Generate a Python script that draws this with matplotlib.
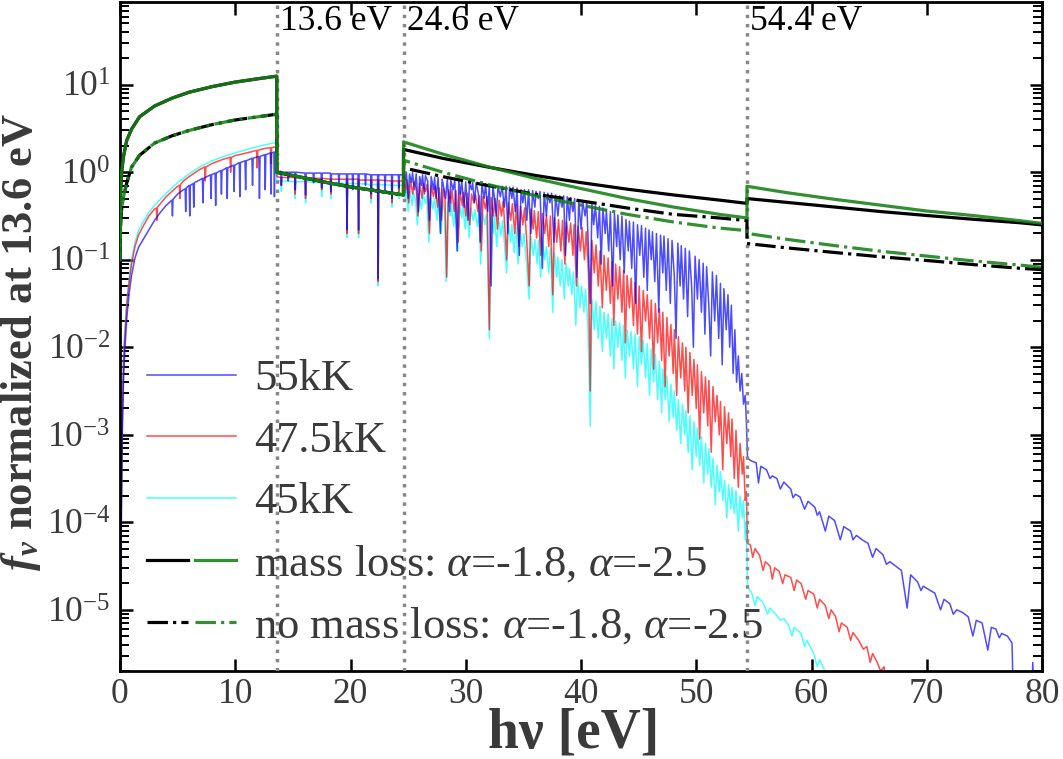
import numpy as np
import matplotlib
matplotlib.use("Agg")
import matplotlib.pyplot as plt
from matplotlib.lines import Line2D
from matplotlib.legend_handler import HandlerTuple

# ---------------- data (energy in eV, spectra as log10 f_nu) ----------------
edges = [13.6, 24.6, 54.4]
edge_labels = ["13.6 eV", "24.6 eV", "54.4 eV"]
ytick_vals = [1e-5, 1e-4, 1e-3, 1e-2, 1e-1, 1e0, 1e1]

blue_pts = [  # 55kK
    (0.03, -6.5), (0.1, -4.2), (0.2, -3.0), (0.3, -2.4), (0.43, -2.0), (0.6, -1.65), (0.8, -1.38),
    (1.0, -1.18), (1.3, -0.98), (1.6, -0.86), (2.0, -0.77), (2.5, -0.66), (3.0, -0.55), (3.5, -0.46),
    (4.0, -0.38), (4.5, -0.32), (4.55, -0.5), (4.6, -0.31), (5.0, -0.25), (5.5, -0.2), (5.65, -0.19),
    (5.7, -0.45), (5.75, -0.18), (6.0, -0.15), (6.05, -0.5), (6.1, -0.15), (6.35, -0.13), (6.4, -0.4),
    (6.45, -0.12), (6.9, -0.09), (7.15, -0.07), (7.2, -0.35), (7.25, -0.07), (7.85, -0.03), (7.9, -0.3),
    (7.95, -0.03), (8.25, -0.01), (8.3, -0.38), (8.35, -0.01), (8.75, 0.02), (8.8, -0.25), (8.85, 0.02),
    (9.25, 0.05), (9.3, -0.3), (9.35, 0.05), (9.85, 0.08), (9.9, -0.22), (9.95, 0.08), (10.35, 0.11),
    (10.4, -0.28), (10.45, 0.11), (10.85, 0.13), (10.9, -0.2), (10.95, 0.13), (11.45, 0.16), (11.5, -0.15),
    (11.55, 0.16), (12.05, 0.18), (12.1, -0.3), (12.15, 0.18), (12.55, 0.2), (12.6, -0.2), (12.65, 0.2),
    (13.05, 0.22), (13.1, -0.25), (13.15, 0.22), (13.35, 0.23), (13.4, -0.28), (13.45, 0.23), (13.55, 0.23),
    (13.62, 0.01), (13.95, 0.01), (14.0, -0.15), (14.05, 0.0), (14.55, 0.0), (14.6, -0.1), (14.65, 0.0),
    (15.15, 0.0), (15.2, -0.2), (15.25, 0.0), (16.05, -0.01), (16.1, -0.26), (16.15, -0.01), (16.75, -0.01),
    (16.8, -0.12), (16.85, -0.01), (17.45, -0.01), (17.5, -0.18), (17.55, -0.01), (18.25, -0.01),
    (18.3, -0.22), (18.35, -0.02), (18.95, -0.02), (19.0, -0.15), (19.05, -0.02), (19.65, -0.02),
    (19.7, -0.66), (19.75, -0.02), (20.15, -0.02), (20.2, -0.2), (20.25, -0.02), (20.65, -0.02),
    (20.7, -0.66), (20.75, -0.02), (21.25, -0.02), (21.3, -0.15), (21.35, -0.02), (21.75, -0.03),
    (21.8, -0.25), (21.85, -0.03), (22.35, -0.03), (22.4, -1.22), (22.45, -0.03), (22.95, -0.03),
    (23.0, -0.2), (23.05, -0.03), (23.55, -0.03), (23.6, -0.3), (23.65, -0.03), (24.15, -0.03),
    (24.2, -0.18), (24.25, -0.03), (24.55, -0.03),
    (24.65, 0.02), (24.75, -0.1), (24.85, 0.0), (25.0, -0.3), (25.12, -0.02), (25.3, -0.12), (25.38, 0.0),
    (25.55, -0.2), (25.7, -0.02), (25.9, -0.45), (26.0, -0.05), (26.15, -0.15), (26.25, -0.03), (26.4, -0.25),
    (26.5, -0.04), (26.7, -0.1), (26.85, -0.55), (27.0, -0.05), (27.2, -0.2), (27.3, -0.06), (27.42, -0.3),
    (27.6, -0.06), (27.8, -0.7), (27.95, -0.08), (28.1, -0.18), (28.25, -0.3), (28.4, -0.08), (28.6, -0.45),
    (28.7, -0.09), (28.9, -0.2), (29.05, -0.09), (29.25, -0.9), (29.4, -0.1), (29.55, -0.25), (29.65, -0.1),
    (29.85, -0.4), (30.0, -0.11), (30.2, -0.55), (30.32, -0.12), (30.5, -0.2), (30.6, -0.12), (30.75, -0.35),
    (30.9, -0.12), (31.1, -0.25), (31.25, -0.8), (31.4, -0.13), (31.6, -0.3), (31.72, -0.13), (31.9, -0.45),
    (32.05, -0.14), (32.2, -1.3), (32.35, -0.15), (32.5, -0.3), (32.65, -0.5), (32.8, -0.16), (33.0, -0.28),
    (33.15, -0.16), (33.35, -0.4), (33.5, -0.16), (33.65, -0.7), (33.8, -0.17), (34.0, -0.3), (34.1, -0.17),
    (34.3, -0.45), (34.45, -0.18), (34.65, -0.95), (34.8, -0.2), (34.95, -0.35), (35.1, -0.2), (35.3, -0.55),
    (35.45, -0.2), (35.65, -0.7), (35.8, -0.21), (36.0, -0.4), (36.1, -0.22), (36.3, -0.3), (36.45, -0.22),
    (36.65, -1.1), (36.8, -0.23), (37.0, -0.5), (37.12, -0.24), (37.3, -0.35), (37.45, -0.24), (37.65, -0.8),
    (37.8, -0.26), (38.0, -0.5), (38.15, -0.27), (38.35, -0.4), (38.5, -0.27), (38.65, -0.95), (38.8, -0.28),
    (39.0, -0.55), (39.1, -0.29), (39.3, -0.45), (39.45, -0.3), (39.65, -1.2), (39.8, -0.32), (40.0, -0.65),
    (40.15, -0.33), (40.35, -0.5), (40.5, -0.34), (40.65, -0.9), (40.8, -1.5), (40.95, -0.36), (41.1, -0.6),
    (41.25, -0.38), (41.45, -0.75), (41.6, -0.39), (41.75, -1.05), (41.9, -0.41), (42.1, -0.7), (42.2, -0.43),
    (42.4, -0.9), (42.55, -0.45), (42.75, -1.3), (42.9, -0.47), (43.1, -0.85), (43.2, -0.49), (43.4, -1.0),
    (43.55, -0.5), (43.75, -1.15), (43.9, -0.54), (44.1, -0.9), (44.2, -0.56), (44.4, -1.1), (44.55, -0.57),
    (44.75, -1.5), (44.9, -0.6), (45.1, -0.95), (45.25, -0.61), (45.45, -1.2), (45.6, -0.64), (45.75, -1.35),
    (45.9, -0.66), (46.1, -1.0), (46.2, -0.68), (46.4, -1.25), (46.55, -0.7), (46.75, -1.6), (46.9, -0.72),
    (47.1, -1.15), (47.2, -0.73), (47.4, -1.35), (47.55, -0.76), (47.75, -1.5), (47.9, -0.78), (48.1, -1.2),
    (48.25, -1.9), (48.4, -0.81), (48.6, -1.3), (48.7, -0.84), (48.9, -1.45), (49.05, -0.87), (49.25, -1.65),
    (49.4, -0.9), (49.6, -1.3), (49.75, -2.0), (49.9, -0.96), (50.1, -1.45), (50.25, -1.0), (50.45, -1.6),
    (50.6, -1.04), (50.75, -1.85), (50.9, -1.08), (51.1, -1.55), (51.25, -2.1), (51.4, -1.14), (51.6, -1.7),
    (51.75, -1.18), (51.95, -1.9), (52.1, -1.27), (52.25, -2.2), (52.4, -1.33), (52.6, -1.8), (52.75, -1.4),
    (52.9, -2.0), (53.05, -1.52), (53.2, -2.3), (53.35, -1.8), (53.5, -2.4), (53.65, -2.1), (53.8, -2.5),
    (53.95, -2.3), (54.1, -2.65), (54.25, -2.55), (54.35, -2.85),
    (54.45, -3.27), (54.8, -3.3), (55.2, -3.32), (55.4, -3.55), (55.6, -3.36), (56.1, -3.4), (56.4, -3.5),
    (56.6, -3.47), (57.0, -3.5), (57.3, -3.62), (57.6, -3.54), (58.2, -3.62), (58.4, -3.72), (58.6, -3.68),
    (59.0, -3.71), (59.4, -3.85), (59.7, -3.76), (60.3, -3.83), (60.5, -3.92), (60.7, -3.88), (61.2, -4.1),
    (61.5, -3.93), (62.0, -3.98), (62.5, -4.2), (62.8, -4.05), (63.4, -4.1), (63.6, -4.2), (63.9, -4.15),
    (64.4, -4.2), (64.9, -4.24), (65.3, -4.4), (65.6, -4.3), (66.2, -4.37), (66.5, -4.48), (66.8, -4.45),
    (67.3, -4.5), (67.8, -4.55), (68.3, -4.98), (68.6, -4.6), (69.2, -4.68), (69.5, -4.78), (69.7, -4.73),
    (70.2, -4.77), (70.7, -4.81), (71.2, -5.0), (71.5, -4.88), (72.0, -4.93), (72.3, -5.05), (72.6, -5.0),
    (73.1, -5.03), (73.6, -5.08), (74.0, -5.3), (74.3, -5.12), (74.8, -5.15), (75.3, -5.46), (75.6, -5.2),
    (76.0, -5.22), (76.3, -5.32), (76.5, -5.27), (77.0, -5.3), (77.4, -5.38), (77.6, -6.5), (79.0, -6.5),
    (79.2, -5.6), (79.4, -6.5), (80.0, -6.5),
]

red_pts = [  # 47.5kK
    (0.03, -6.5), (0.1, -4.0), (0.2, -2.8), (0.3, -2.2), (0.43, -1.85), (0.6, -1.5), (0.8, -1.25),
    (1.0, -1.05), (1.3, -0.85), (1.6, -0.72), (2.0, -0.62), (2.5, -0.5), (3.0, -0.42), (3.15, -0.41),
    (3.2, -0.55), (3.25, -0.4), (3.5, -0.36), (4.0, -0.28), (4.5, -0.22), (5.0, -0.16), (5.15, -0.15),
    (5.2, -0.3), (5.25, -0.14), (5.5, -0.1), (6.0, -0.05), (6.9, 0.03), (7.35, 0.06), (7.4, -0.1),
    (7.45, 0.06), (8.0, 0.1), (9.0, 0.15), (9.55, 0.17), (9.6, 0.0), (9.65, 0.17), (10.0, 0.19),
    (11.3, 0.23), (11.85, 0.25), (11.9, 0.05), (11.95, 0.25), (12.5, 0.27), (13.05, 0.28), (13.1, 0.1),
    (13.15, 0.28), (13.55, 0.29),
    (13.62, -0.05), (13.95, -0.06), (14.0, -0.15), (14.05, -0.06), (15.15, -0.06), (15.2, -0.25),
    (15.25, -0.06), (16.05, -0.07), (16.1, -0.3), (16.15, -0.07), (17.45, -0.07), (17.5, -0.2),
    (17.55, -0.07), (18.25, -0.08), (18.3, -0.25), (18.35, -0.08), (19.65, -0.08), (19.7, -0.7),
    (19.75, -0.08), (20.65, -0.08), (20.7, -0.7), (20.75, -0.09), (21.75, -0.09), (21.8, -0.3),
    (21.85, -0.09), (22.35, -0.09), (22.4, -1.25), (22.45, -0.09), (23.55, -0.1), (23.6, -0.35),
    (23.65, -0.1), (24.15, -0.1), (24.2, -0.22), (24.25, -0.1), (24.55, -0.1),
    (24.65, -0.08), (24.8, -0.2), (24.9, -0.09), (25.05, -0.35), (25.2, -0.1), (25.4, -0.25), (25.5, -0.11),
    (25.7, -0.18), (25.85, -0.5), (26.0, -0.13), (26.2, -0.3), (26.3, -0.13), (26.5, -0.22), (26.65, -0.14),
    (26.85, -0.7), (27.0, -0.15), (27.2, -0.28), (27.35, -0.16), (27.55, -0.4), (27.7, -0.18), (27.9, -0.55),
    (28.05, -0.19), (28.2, -0.3), (28.35, -1.2), (28.5, -0.2), (28.7, -0.35), (28.8, -0.2), (29.0, -0.45),
    (29.15, -0.21), (29.35, -0.8), (29.5, -0.22), (29.7, -0.38), (29.8, -0.23), (30.0, -0.5), (30.15, -0.24),
    (30.35, -0.6), (30.5, -0.25), (30.7, -0.35), (30.85, -0.26), (31.05, -0.45), (31.2, -0.27), (31.35, -0.9),
    (31.5, -0.28), (31.7, -0.42), (31.85, -0.28), (32.05, -1.8), (32.2, -0.29), (32.4, -0.5), (32.55, -0.3),
    (32.75, -0.65), (32.9, -0.32), (33.1, -0.5), (33.25, -0.33), (33.45, -0.75), (33.55, -1.0), (33.7, -0.35),
    (33.9, -0.55), (34.05, -0.36), (34.25, -0.7), (34.4, -0.37), (34.6, -0.85), (34.75, -0.39), (34.95, -0.6),
    (35.1, -0.41), (35.3, -0.8), (35.5, -1.3), (35.65, -0.42), (35.85, -0.65), (35.95, -0.44), (36.15, -0.75),
    (36.3, -0.45), (36.5, -0.95), (36.65, -0.47), (36.85, -0.7), (37.0, -0.49), (37.2, -0.85), (37.35, -0.5),
    (37.55, -1.4), (37.7, -0.52), (37.9, -0.8), (38.05, -0.54), (38.25, -0.9), (38.4, -0.55), (38.6, -1.05),
    (38.75, -0.57), (38.95, -0.8), (39.1, -0.58), (39.3, -0.95), (39.4, -0.6), (39.6, -1.3), (39.75, -0.62),
    (39.95, -0.9), (40.1, -0.63), (40.3, -1.0), (40.45, -0.68), (40.65, -1.15), (40.8, -2.5), (40.95, -0.78),
    (41.15, -1.15), (41.3, -0.83), (41.5, -1.3), (41.65, -0.9), (41.85, -1.55), (42.0, -0.95), (42.2, -1.35),
    (42.35, -0.98), (42.55, -1.5), (42.7, -1.02), (42.85, -1.75), (43.0, -1.05), (43.2, -1.45), (43.35, -1.08),
    (43.55, -1.6), (43.7, -1.12), (43.85, -1.95), (44.0, -1.18), (44.2, -1.55), (44.35, -1.21), (44.55, -1.75),
    (44.7, -1.26), (44.9, -1.85), (45.05, -1.3), (45.25, -2.05), (45.4, -1.35), (45.6, -1.7), (45.75, -1.4),
    (45.95, -1.9), (46.1, -1.46), (46.3, -2.25), (46.45, -1.5), (46.65, -1.95), (46.8, -1.56), (47.0, -2.15),
    (47.1, -1.6), (47.3, -2.45), (47.45, -1.66), (47.65, -2.1), (47.8, -1.74), (48.0, -2.3), (48.1, -1.8),
    (48.3, -2.55), (48.45, -1.88), (48.65, -2.35), (48.8, -1.95), (49.0, -2.5), (49.1, -2.0), (49.3, -2.75),
    (49.45, -2.06), (49.65, -2.55), (49.8, -2.14), (50.0, -2.7), (50.1, -2.2), (50.3, -3.05), (50.45, -2.28),
    (50.65, -2.75), (50.8, -2.34), (51.0, -2.9), (51.1, -2.38), (51.3, -3.2), (51.45, -2.45), (51.65, -2.85),
    (51.8, -2.55), (52.0, -3.0), (52.1, -2.62), (52.3, -3.4), (52.45, -2.68), (52.65, -3.1), (52.8, -2.75),
    (53.0, -3.25), (53.1, -2.82), (53.3, -3.5), (53.45, -2.95), (53.65, -3.6), (53.8, -3.1), (54.0, -3.45),
    (54.1, -3.25), (54.25, -3.75), (54.35, -3.65),
    (54.45, -4.24), (54.7, -4.26), (54.9, -4.4), (55.1, -4.3), (55.5, -4.38), (55.8, -4.55), (56.0, -4.45),
    (56.4, -4.5), (56.6, -4.65), (56.8, -4.52), (57.2, -4.56), (57.5, -4.7), (57.7, -4.6), (58.2, -4.63),
    (58.5, -4.78), (58.7, -4.66), (59.1, -4.7), (59.5, -4.88), (59.7, -4.78), (60.2, -4.82), (60.5, -4.98),
    (60.7, -4.88), (61.2, -4.95), (61.5, -5.1), (61.7, -5.0), (62.1, -5.08), (62.4, -5.25), (62.6, -5.15),
    (63.1, -5.2), (63.4, -5.35), (63.6, -5.26), (64.1, -5.35), (64.5, -5.45), (64.8, -5.42), (65.1, -5.6),
    (65.3, -5.5), (65.7, -5.6), (66.0, -5.7), (66.3, -5.65), (66.6, -6.5), (80.0, -6.5),
]

cyan_pts = [  # 45kK
    (0.03, -6.5), (0.1, -3.9), (0.2, -2.7), (0.3, -2.1), (0.43, -1.78), (0.6, -1.45), (0.8, -1.2),
    (1.0, -1.0), (1.3, -0.8), (1.6, -0.67), (2.0, -0.57), (2.5, -0.46), (3.0, -0.38), (3.5, -0.31),
    (4.0, -0.24), (4.5, -0.18), (5.0, -0.12), (5.5, -0.07), (6.0, -0.02), (6.9, 0.06), (8.0, 0.13),
    (9.0, 0.18), (10.0, 0.22), (11.3, 0.27), (12.5, 0.31), (13.55, 0.34),
    (13.62, -0.1), (13.95, -0.1), (14.0, -0.22), (14.05, -0.1), (15.15, -0.11), (15.2, -0.3), (15.25, -0.11),
    (16.05, -0.11), (16.1, -0.35), (16.15, -0.11), (17.45, -0.12), (17.5, -0.28), (17.55, -0.12),
    (18.25, -0.12), (18.3, -0.3), (18.35, -0.12), (19.65, -0.13), (19.7, -0.75), (19.75, -0.13),
    (20.65, -0.13), (20.7, -0.75), (20.75, -0.13), (21.75, -0.14), (21.8, -0.35), (21.85, -0.14),
    (22.35, -0.14), (22.4, -1.3), (22.45, -0.14), (23.55, -0.15), (23.6, -0.4), (23.65, -0.15),
    (24.15, -0.15), (24.2, -0.3), (24.25, -0.15), (24.55, -0.15),
    (24.65, -0.2), (24.75, -0.3), (24.85, -0.21), (25.0, -0.45), (25.15, -0.22), (25.35, -0.38), (25.45, -0.23),
    (25.65, -0.32), (25.8, -0.6), (25.95, -0.25), (26.15, -0.42), (26.3, -0.26), (26.5, -0.35), (26.6, -0.27),
    (26.8, -0.8), (26.95, -0.29), (27.15, -0.42), (27.3, -0.3), (27.5, -0.55), (27.65, -0.31), (27.85, -0.7),
    (28.0, -0.33), (28.15, -0.45), (28.3, -1.25), (28.45, -0.34), (28.65, -0.5), (28.75, -0.35), (28.95, -0.62),
    (29.1, -0.36), (29.3, -0.9), (29.45, -0.37), (29.65, -0.52), (29.75, -0.38), (29.95, -0.65), (30.1, -0.4),
    (30.3, -0.75), (30.45, -0.41), (30.65, -0.55), (30.8, -0.43), (31.0, -0.62), (31.15, -0.45), (31.3, -1.05),
    (31.45, -0.46), (31.65, -0.6), (31.8, -0.48), (32.05, -1.9), (32.2, -0.49), (32.4, -0.7), (32.5, -0.5),
    (32.7, -0.85), (32.85, -0.53), (33.05, -0.72), (33.2, -0.55), (33.4, -0.9), (33.55, -1.15), (33.7, -0.58),
    (33.9, -0.8), (34.0, -0.6), (34.2, -0.92), (34.35, -0.63), (34.55, -1.05), (34.7, -0.66), (34.9, -0.85),
    (35.05, -0.7), (35.25, -1.0), (35.5, -1.45), (35.65, -0.73), (35.85, -0.95), (36.0, -0.77), (36.2, -1.05),
    (36.3, -0.78), (36.5, -1.2), (36.65, -0.8), (36.85, -1.0), (37.0, -0.85), (37.2, -1.15), (37.35, -0.87),
    (37.55, -1.6), (37.7, -0.92), (37.9, -1.2), (38.0, -0.97), (38.2, -1.3), (38.35, -1.0), (38.55, -1.45),
    (38.7, -1.04), (38.9, -1.3), (39.0, -1.1), (39.2, -1.4), (39.35, -1.14), (39.55, -1.75), (39.7, -1.2),
    (39.9, -1.55), (40.05, -1.3), (40.25, -1.6), (40.4, -1.34), (40.6, -1.75), (40.8, -2.9), (40.95, -1.45),
    (41.15, -1.8), (41.3, -1.48), (41.5, -1.9), (41.65, -1.53), (41.85, -2.05), (42.0, -1.6), (42.2, -1.9),
    (42.35, -1.62), (42.55, -2.1), (42.7, -1.67), (42.85, -2.25), (43.0, -1.7), (43.2, -2.0), (43.35, -1.72),
    (43.55, -2.15), (43.7, -1.75), (43.85, -2.35), (44.0, -1.8), (44.2, -2.1), (44.35, -1.82), (44.55, -2.25),
    (44.7, -1.85), (44.9, -2.45), (45.05, -1.88), (45.25, -2.2), (45.4, -1.92), (45.6, -2.35), (45.75, -1.96),
    (45.95, -2.55), (46.1, -2.02), (46.3, -2.4), (46.45, -2.08), (46.65, -2.6), (46.8, -2.16), (47.0, -2.75),
    (47.1, -2.25), (47.3, -2.6), (47.45, -2.33), (47.65, -2.85), (47.8, -2.42), (48.0, -2.8), (48.1, -2.5),
    (48.3, -2.95), (48.45, -2.6), (48.65, -3.1), (48.8, -2.65), (49.0, -3.0), (49.1, -2.72), (49.3, -3.2),
    (49.45, -2.78), (49.65, -3.4), (49.8, -2.85), (50.0, -3.25), (50.1, -2.92), (50.3, -3.35), (50.45, -3.02),
    (50.65, -3.55), (50.8, -3.1), (51.0, -3.45), (51.1, -3.16), (51.3, -3.6), (51.45, -3.27), (51.65, -3.8),
    (51.8, -3.35), (52.0, -3.65), (52.1, -3.42), (52.3, -3.75), (52.45, -3.52), (52.65, -3.95), (52.8, -3.57),
    (53.0, -3.85), (53.1, -3.6), (53.3, -3.9), (53.45, -3.64), (53.65, -4.1), (53.8, -3.7), (54.0, -3.95),
    (54.1, -3.75), (54.25, -4.2), (54.35, -4.0),
    (54.45, -4.74), (54.8, -4.8), (55.1, -4.95), (55.3, -4.85), (55.8, -4.92), (56.2, -5.05), (56.4, -4.98),
    (56.9, -5.05), (57.3, -5.12), (57.6, -5.1), (58.0, -5.17), (58.3, -5.3), (58.5, -5.2), (59.1, -5.27),
    (59.4, -5.42), (59.6, -5.35), (60.2, -5.5), (60.5, -5.65), (60.7, -5.57), (61.1, -5.68), (61.4, -5.8),
    (61.7, -6.5), (80.0, -6.5),
]

# power-law models (values normalized at 13.6 eV)
model_E = [0.001, 0.05, 0.14, 0.3, 0.58, 1.0, 1.7, 3.0, 4.5, 6.0, 8.0, 10.0, 12.0, 13.6,
           13.6, 16.0, 18.0, 20.0, 22.0, 24.6,
           24.6, 28.0, 32.0, 36.0, 40.0, 44.0, 48.0, 52.0, 54.4,
           54.4, 58.0, 62.0, 66.0, 70.0, 74.0, 78.0, 80.0]
massloss_a18 = [0.1, 0.6, 1.0, 1.5, 2.3, 3.1, 4.3, 5.7, 7.0, 8.2, 9.5, 10.7, 11.7, 12.5,
                1.0, 0.86, 0.76, 0.68, 0.62, 0.55,
                1.82, 1.44, 1.14, 0.92, 0.76, 0.64, 0.55, 0.48, 0.44,
                0.50, 0.45, 0.40, 0.355, 0.32, 0.29, 0.265, 0.25]
massloss_a25 = [0.1, 0.6, 1.0, 1.5, 2.3, 3.1, 4.3, 5.7, 7.0, 8.2, 9.5, 10.7, 11.7, 12.5,
                1.0, 0.86, 0.76, 0.68, 0.62, 0.55,
                2.22, 1.61, 1.15, 0.85, 0.65, 0.50, 0.40, 0.33, 0.30,
                0.69, 0.58, 0.49, 0.42, 0.36, 0.32, 0.28, 0.26]
nomassloss_a18 = [0.1, 0.25, 0.38, 0.52, 0.75, 1.14, 1.56, 2.15, 2.6, 3.0, 3.5, 3.95, 4.3, 4.6,
                  1.0, 0.86, 0.76, 0.68, 0.62, 0.55,
                  1.12, 0.89, 0.70, 0.56, 0.47, 0.39, 0.33, 0.30, 0.28,
                  0.153, 0.136, 0.121, 0.108, 0.098, 0.088, 0.08, 0.077]
nomassloss_a25 = [0.1, 0.25, 0.38, 0.52, 0.75, 1.14, 1.56, 2.15, 2.6, 3.0, 3.5, 3.95, 4.3, 4.6,
                  1.0, 0.86, 0.76, 0.68, 0.62, 0.55,
                  1.37, 1.0, 0.72, 0.54, 0.42, 0.33, 0.27, 0.23, 0.215,
                  0.20, 0.17, 0.145, 0.125, 0.11, 0.097, 0.087, 0.082]

labels = ["55kK", "47.5kK", "45kK",
          r"mass loss: $\alpha$=-1.8, $\alpha$=-2.5",
          r"no mass loss: $\alpha$=-1.8, $\alpha$=-2.5"]

# ---------------- style ----------------
plt.rcParams['font.family'] = ['Liberation Serif', 'DejaVu Serif']
plt.rcParams['mathtext.fontset'] = 'custom'
plt.rcParams['mathtext.rm'] = 'Liberation Serif'
plt.rcParams['mathtext.it'] = 'Liberation Serif:italic'
plt.rcParams['mathtext.bf'] = 'Liberation Serif:bold:italic'

TXT = '#3a3a3a'
GREEN = '#168016'
LW = 2.3

fig = plt.figure(figsize=(10.63, 7.59), dpi=100)
ax = fig.add_axes([120 / 1063, 1 - 671 / 759, 922 / 1063, 669 / 759])

def series(pts):
    a = np.array(pts, dtype=float)
    return a[:, 0], 10.0 ** a[:, 1]

for pts, col in [(cyan_pts, 'cyan'), (red_pts, 'red'), (blue_pts, 'blue')]:
    e, f = series(pts)
    ax.plot(e, f, color=col, alpha=0.7, lw=1.1, zorder=2)

for xe in edges:
    ax.axvline(xe, color='#888888', ls=':', lw=2.5, zorder=3)

dd = (0, (6.4, 1.6, 1.0, 1.6))
dd_g = (4, (6.4, 1.6, 1.0, 1.6))
ax.plot(model_E, massloss_a18, color='k', lw=LW, zorder=4)
ax.plot(model_E, nomassloss_a18, color='k', lw=LW, ls=dd, zorder=4)
ax.plot(model_E, massloss_a25, color=GREEN, alpha=0.88, lw=LW, zorder=5)
ax.plot(model_E, nomassloss_a25, color=GREEN, alpha=0.88, lw=LW, ls=dd_g, zorder=5)

ax.set_yscale('log')
ax.set_xlim(0, 80)
ax.set_ylim(2e-6, 88)
ax.set_xticks(range(0, 81, 10))
ax.set_yticks(ytick_vals)

for s in ax.spines.values():
    s.set_linewidth(2.0)
ax.tick_params(which='both', direction='in', top=True, right=True, colors='k',
               labelcolor=TXT, labelsize=25.5)
ax.tick_params(which='major', length=9, width=1.8, pad=7)
ax.tick_params(axis='x', which='major', pad=5)
ax.tick_params(which='minor', length=6.5, width=1.4)
ax.tick_params(axis='x', which='minor', bottom=False, top=False)

ax.set_xlabel("hν [eV]", fontsize=40, fontweight='bold', color=TXT)
ax.xaxis.set_label_coords(0.492, -0.115)
ax.xaxis.label.set_va('baseline')
ax.set_ylabel(r"$\mathbf{f_\nu}$ normalized at 13.6 eV", fontsize=32, fontweight='bold', color=TXT)
ax.yaxis.set_label_coords(-0.107, 0.492)
ax.yaxis.label.set_va('center')

for xe, lab in zip(edges, edge_labels):
    ax.text(xe + 0.3, 0.995, lab, transform=ax.get_xaxis_transform(), fontsize=25.5,
            color='k', va='top', ha='left')

h1 = Line2D([], [], color='blue', alpha=0.7, lw=1.1)
h2 = Line2D([], [], color='red', alpha=0.7, lw=1.1)
h3 = Line2D([], [], color='cyan', alpha=0.7, lw=1.1)
h4 = (Line2D([], [], color='k', lw=LW), Line2D([], [], color=GREEN, alpha=0.88, lw=LW))
h5 = (Line2D([], [], color='k', lw=LW, ls=dd), Line2D([], [], color=GREEN, alpha=0.88, lw=LW, ls=dd))
leg = ax.legend([h1, h2, h3, h4, h5], labels, loc='upper left', bbox_to_anchor=(0.029, 0.466),
                borderpad=0, borderaxespad=0, frameon=False, fontsize=32,
                handlelength=2.0, handletextpad=0.42, labelspacing=0.48,
                handler_map={tuple: HandlerTuple(ndivide=None, pad=0.15)})
for t in leg.get_texts():
    t.set_color(TXT)

fig.savefig("out.png", dpi=100)
